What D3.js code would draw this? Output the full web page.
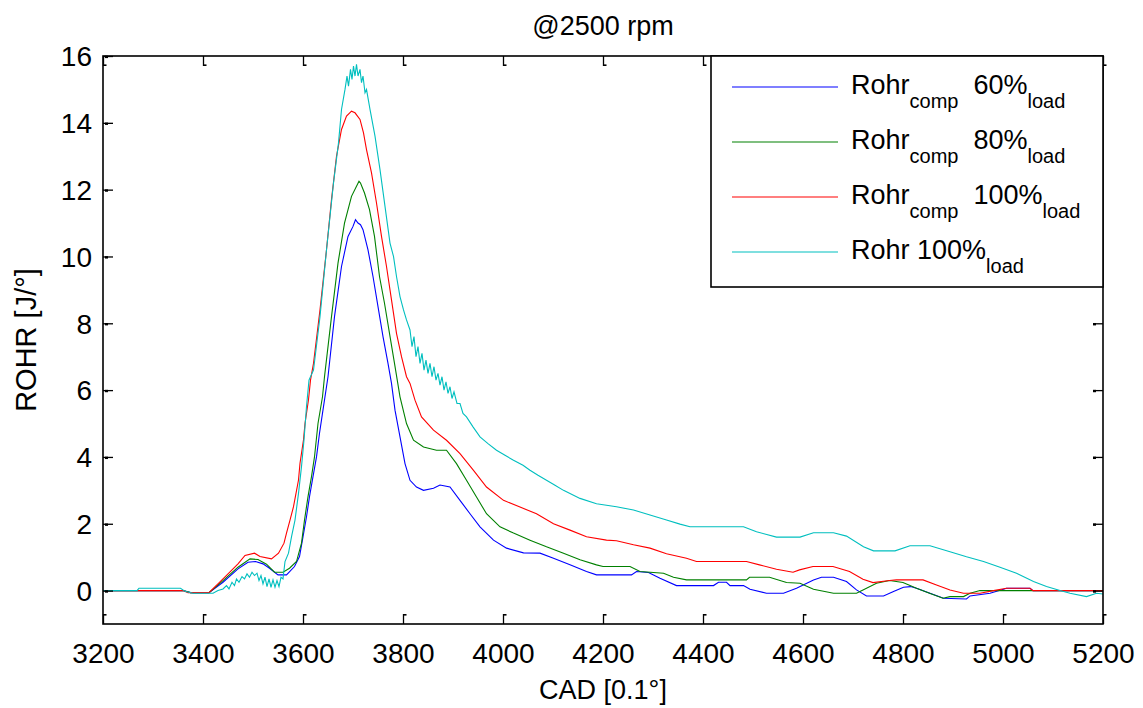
<!DOCTYPE html>
<html>
<head>
<meta charset="utf-8">
<script src="https://cdn.jsdelivr.net/npm/d3@7"></script>
<style>
  html, body { margin: 0; padding: 0; background: #ffffff; }
  svg { display: block; }
  text { font-family: "Liberation Sans", Arial, sans-serif; fill: #000; }
</style>
</head>
<body>
<svg id="chart" width="1143" height="708"></svg>
<script>
// Rate of heat release vs crank angle, [CAD (0.1°), ROHR (J/°)] pairs per case
const rohrComp60 = [
  [3200,0],[3360,0],[3375,-0.06],[3412,-0.06],[3440,0.25],[3470,0.65],[3490,0.85],[3505,0.87],
  [3520,0.8],[3533,0.67],[3550,0.47],[3567,0.47],[3583,0.72],[3593,1.02],[3600,1.61],[3607,2.21],
  [3613,2.81],[3620,3.41],[3627,4.0],[3633,4.71],[3640,5.41],[3650,6.4],[3663,8.2],[3677,9.7],
  [3690,10.6],[3700,10.9],[3705,11.1],[3710,11.0],[3715,10.95],[3720,10.8],[3730,10.2],[3740,9.4],
  [3750,8.5],[3760,7.6],[3770,6.8],[3777,6.2],[3784,5.4],[3794,4.6],[3804,3.8],[3814,3.3],
  [3827,3.1],[3841,3.0],[3861,3.06],[3874,3.16],[3894,3.1],[3914,2.7],[3934,2.3],[3954,1.91],
  [3981,1.51],[4007,1.27],[4041,1.13],[4074,1.12],[4101,0.97],[4134,0.77],[4167,0.57],[4187,0.47],
  [4257,0.47],[4267,0.57],[4291,0.54],[4314,0.37],[4347,0.15],[4421,0.15],[4431,0.25],[4447,0.25],
  [4454,0.15],[4481,0.15],[4494,0.04],[4527,-0.08],[4561,-0.08],[4587,0.07],[4621,0.32],[4637,0.4],
  [4661,0.4],[4687,0.27],[4707,0.02],[4727,-0.16],[4761,-0.16],[4781,-0.03],[4801,0.1],[4815,0.12],
  [4827,0.07],[4854,-0.08],[4881,-0.23],[4927,-0.25],[4934,-0.16],[4974,-0.08],[5001,0.04],[5007,0.07],
  [5054,0.07],[5060,0],[5200,0]
];

const rohrComp80 = [
  [3200,0],[3360,0],[3375,-0.06],[3412,-0.06],[3440,0.3],[3470,0.7],[3494,0.95],[3510,0.93],
  [3527,0.79],[3543,0.55],[3560,0.55],[3573,0.67],[3587,0.87],[3597,1.42],[3603,2.11],[3610,2.81],
  [3617,3.41],[3623,4.0],[3630,5.0],[3639,5.8],[3643,6.4],[3657,8.2],[3670,9.8],[3683,11.0],
  [3697,11.8],[3707,12.1],[3712,12.25],[3715,12.2],[3723,11.9],[3733,11.4],[3743,10.6],[3753,9.4],
  [3763,8.6],[3773,7.7],[3783,6.8],[3794,5.8],[3807,5.0],[3821,4.5],[3841,4.3],[3867,4.2],
  [3887,4.2],[3907,3.8],[3927,3.3],[3947,2.8],[3967,2.3],[3994,1.91],[4021,1.72],[4054,1.51],
  [4087,1.31],[4121,1.12],[4154,0.92],[4187,0.77],[4200,0.72],[4254,0.72],[4274,0.57],[4321,0.52],
  [4341,0.4],[4367,0.32],[4487,0.32],[4493,0.4],[4533,0.4],[4567,0.24],[4594,0.22],[4621,0.04],
  [4661,-0.08],[4707,-0.08],[4727,0.07],[4747,0.22],[4773,0.3],[4800,0.24],[4827,0.07],[4853,-0.08],
  [4880,-0.23],[4894,-0.18],[4921,-0.18],[4934,-0.08],[4954,0],[5200,0]
];

const rohrComp100 = [
  [3200,0],[3360,0],[3370,-0.06],[3412,-0.06],[3440,0.35],[3470,0.8],[3484,1.05],[3503,1.12],
  [3514,1.02],[3537,0.95],[3551,1.12],[3562,1.42],[3567,1.72],[3574,2.11],[3581,2.51],[3586,2.91],
  [3591,3.31],[3594,3.81],[3601,4.51],[3604,5.0],[3611,5.71],[3615,6.3],[3621,6.8],[3634,8.4],
  [3647,10.2],[3657,11.7],[3667,13.0],[3677,13.8],[3687,14.2],[3697,14.35],[3704,14.3],[3714,14.1],
  [3721,13.7],[3727,13.2],[3737,12.5],[3747,11.6],[3757,10.6],[3767,9.7],[3777,8.7],[3787,7.7],
  [3797,7.0],[3807,6.4],[3814,6.2],[3824,5.7],[3837,5.2],[3861,4.8],[3887,4.5],[3914,4.1],
  [3941,3.6],[3967,3.1],[4001,2.7],[4034,2.5],[4067,2.3],[4101,2.0],[4134,1.81],[4167,1.61],
  [4207,1.51],[4227,1.49],[4261,1.37],[4294,1.27],[4327,1.1],[4367,0.97],[4387,0.87],[4487,0.87],
  [4513,0.77],[4547,0.64],[4580,0.55],[4593,0.62],[4620,0.72],[4660,0.72],[4693,0.57],[4720,0.34],
  [4740,0.24],[4773,0.3],[4787,0.32],[4840,0.32],[4867,0.17],[4894,0.02],[4921,-0.08],[4954,-0.08],
  [4981,0],[5007,0.07],[5054,0.07],[5060,0],[5200,0]
];

const rohr100 = [
  [3200,0],[3268,0],[3272,0.07],[3355,0.07],[3365,-0.03],[3380,-0.08],[3420,-0.08],[3430,0.0],
  [3440,0.05],[3447,0.15],[3452,0.05],[3458,0.25],[3463,0.15],[3467,0.35],[3472,0.25],[3478,0.42],
  [3483,0.35],[3488,0.5],[3493,0.4],[3498,0.55],[3503,0.45],[3508,0.52],[3512,0.3],[3516,0.45],
  [3520,0.2],[3524,0.4],[3528,0.12],[3532,0.35],[3536,0.1],[3540,0.32],[3544,0.1],[3548,0.3],
  [3552,0.12],[3556,0.4],[3560,0.35],[3564,0.87],[3571,1.12],[3577,1.61],[3584,2.11],[3591,2.91],
  [3597,3.71],[3602,4.51],[3607,5.51],[3612,6.3],[3621,6.6],[3634,8.2],[3647,10.2],[3661,12.2],
  [3671,13.4],[3677,14.4],[3684,15.0],[3688,15.4],[3691,15.1],[3695,15.6],[3698,15.3],[3701,15.7],
  [3704,15.4],[3707,15.75],[3710,15.4],[3714,15.6],[3717,15.2],[3720,15.4],[3724,14.9],[3727,15.0],
  [3734,14.4],[3744,13.6],[3754,12.6],[3764,11.5],[3774,10.4],[3781,10.0],[3787,9.4],[3794,8.8],
  [3801,8.4],[3807,8.1],[3814,7.8],[3818,7.3],[3822,7.6],[3826,7.0],[3830,7.3],[3834,6.8],
  [3838,7.1],[3842,6.6],[3846,6.9],[3850,6.5],[3854,6.8],[3858,6.4],[3862,6.7],[3866,6.3],
  [3870,6.5],[3874,6.15],[3878,6.4],[3882,6.0],[3886,6.25],[3890,5.9],[3894,6.1],[3898,5.75],
  [3902,5.95],[3908,5.6],[3914,5.6],[3920,5.3],[3927,5.2],[3940,4.9],[3954,4.6],[3970,4.4],
  [3987,4.2],[4004,4.05],[4021,3.9],[4040,3.75],[4054,3.6],[4070,3.45],[4087,3.3],[4104,3.15],
  [4121,3.0],[4154,2.76],[4187,2.6],[4227,2.51],[4261,2.41],[4294,2.26],[4327,2.11],[4354,1.99],
  [4374,1.91],[4481,1.91],[4507,1.76],[4547,1.6],[4594,1.6],[4621,1.73],[4661,1.73],[4687,1.63],
  [4721,1.31],[4741,1.19],[4784,1.19],[4814,1.34],[4854,1.34],[4894,1.16],[4927,1.01],[4961,0.87],
  [4994,0.7],[5027,0.52],[5061,0.27],[5087,0.12],[5114,0],[5134,-0.08],[5167,-0.18],[5187,-0.08],
  [5200,-0.1]
];

const xTicks = [3200,3400,3600,3800,4000,4200,4400,4600,4800,5000,5200];
const yTicks = [0,2,4,6,8,10,12,14,16];

const seriesColors = ["#0000ff","#008000","#ff0000","#00bfbf"];
// legend entries: [name, subscript, value, subscript]
const legendRows = [
  ["Rohr","comp","  60%","load"],
  ["Rohr","comp","  80%","load"],
  ["Rohr","comp","  100%","load"],
  ["Rohr 100%","","","load"]
];

const titleText = "@2500 rpm";
const xLabel = "CAD [0.1°]";
const yLabel = "ROHR [J/°]";

// ---- layout ----
const plotLeft = 103, plotRight = 1103, plotTop = 56, plotBottom = 624;

const svg = d3.select("#chart");

const x = d3.scaleLinear().domain([3200, 5200]).range([plotLeft, plotRight]);
const y = d3.scaleLinear().domain([-1, 16]).range([plotBottom, plotTop]);

// clip lines to the axes box
svg.append("defs").append("clipPath").attr("id", "plotClip")
  .append("rect").attr("x", plotLeft).attr("y", plotTop)
  .attr("width", plotRight - plotLeft).attr("height", plotBottom - plotTop);

const line = d3.line().x(d => x(d[0])).y(d => y(d[1]));

const allSeries = [rohrComp60, rohrComp80, rohrComp100, rohr100];
svg.append("g").attr("clip-path", "url(#plotClip)")
  .selectAll("path").data(allSeries).join("path")
  .attr("d", line)
  .attr("fill", "none")
  .attr("stroke", (d, i) => seriesColors[i])
  .attr("stroke-width", 1.1)
  .attr("stroke-linejoin", "miter");

// ---- axes (inward ticks on all four sides) ----
const tickLen = 10;
const fontTick = 28;
const tickFont = "'Liberation Sans', Arial, sans-serif";

// small square cap at the inner end of each tick
function tipMarks(g, dx, dy, w, h) {
  g.selectAll(".tick").append("rect")
    .attr("x", dx).attr("y", dy).attr("width", w).attr("height", h).attr("fill", "#000");
}

const xBottom = d3.axisBottom(x).tickValues(xTicks).tickSizeInner(-tickLen).tickSizeOuter(0)
  .tickPadding(0).tickFormat(d3.format("d"));
const gxb = svg.append("g").attr("transform", `translate(0,${plotBottom})`).call(xBottom);
gxb.select(".domain").remove();
gxb.selectAll(".tick line").attr("stroke", "#000").attr("stroke-width", 1.3);
gxb.selectAll(".tick text").attr("font-size", fontTick).attr("dy", null).attr("y", 39)
  .style("font-family", tickFont);
tipMarks(gxb, 0, -tickLen, 3, 1.6);

const xTop = d3.axisTop(x).tickValues(xTicks).tickSizeInner(-tickLen).tickSizeOuter(0).tickFormat("");
const gxt = svg.append("g").attr("transform", `translate(0,${plotTop})`).call(xTop);
gxt.select(".domain").remove();
gxt.selectAll(".tick line").attr("stroke", "#000").attr("stroke-width", 1.3);
tipMarks(gxt, 0, tickLen - 1.6, 3, 1.6);

const yLeft = d3.axisLeft(y).tickValues(yTicks).tickSizeInner(-tickLen).tickSizeOuter(0)
  .tickPadding(0).tickFormat(d3.format("d"));
const gyl = svg.append("g").attr("transform", `translate(${plotLeft},0)`).call(yLeft);
gyl.select(".domain").remove();
gyl.selectAll(".tick line").attr("stroke", "#000").attr("stroke-width", 1.3);
gyl.selectAll(".tick text").attr("font-size", fontTick).attr("x", -11).attr("dy", "0.35em")
  .style("font-family", tickFont);
tipMarks(gyl, 2, -0.8, 3, 2.4);

const yRight = d3.axisRight(y).tickValues(yTicks).tickSizeInner(-tickLen).tickSizeOuter(0).tickFormat("");
const gyr = svg.append("g").attr("transform", `translate(${plotRight},0)`).call(yRight);
gyr.select(".domain").remove();
gyr.selectAll(".tick line").attr("stroke", "#000").attr("stroke-width", 1.3);
tipMarks(gyr, -tickLen, -0.8, 3, 2.4);

// axes box
svg.append("rect")
  .attr("x", plotLeft).attr("y", plotTop)
  .attr("width", plotRight - plotLeft).attr("height", plotBottom - plotTop)
  .attr("fill", "none").attr("stroke", "#000").attr("stroke-width", 1.6);

// ---- title and axis labels ----
svg.append("text").attr("x", (plotLeft + plotRight) / 2).attr("y", 35)
  .attr("text-anchor", "middle").attr("font-size", 27).text(titleText);

svg.append("text").attr("x", (plotLeft + plotRight) / 2).attr("y", 699)
  .attr("text-anchor", "middle").attr("font-size", 27).text(xLabel);

svg.append("text")
  .attr("transform", `translate(36,${(plotTop + plotBottom) / 2}) rotate(-90)`)
  .attr("text-anchor", "middle").attr("font-size", 29).text(yLabel);

// ---- legend ----
const legendLeft = 711, legendHeight = 231;
const lg = svg.append("g");
lg.append("rect")
  .attr("x", legendLeft).attr("y", plotTop)
  .attr("width", plotRight - legendLeft).attr("height", legendHeight)
  .attr("fill", "#fff").attr("stroke", "#000").attr("stroke-width", 1.6);

legendRows.forEach((row, i) => {
  const ly = 87 + i * 55;
  lg.append("line").attr("x1", 732).attr("x2", 838).attr("y1", ly).attr("y2", ly)
    .attr("stroke", seriesColors[i]).attr("stroke-width", 1.1);
  const t = lg.append("text").attr("x", 851).attr("y", ly + 7)
    .attr("font-size", 27).style("white-space", "pre");
  t.append("tspan").text(row[0]);
  if (row[1]) {
    t.append("tspan").attr("font-size", 20).attr("dy", 14).text(row[1]);
    t.append("tspan").attr("dy", -14).text(row[2]);
  }
  t.append("tspan").attr("font-size", 20).attr("dy", 14).text(row[3]);
});
</script>
</body>
</html>
